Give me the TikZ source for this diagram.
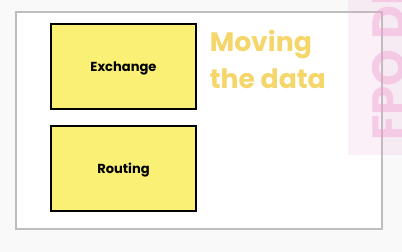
\documentclass[tikz,border=0pt]{standalone}
\usepackage{fontspec}
\setmainfont{Poppins}
\usetikzlibrary{positioning}

\definecolor{boxyellow}{RGB}{250,240,117}
\definecolor{titleyellow}{RGB}{245,214,106}
\definecolor{fpopink}{RGB}{240,160,210}
\definecolor{framegray}{RGB}{190,190,190}
\definecolor{pagegray}{RGB}{249,249,249}

\tikzset{
  block/.style={draw=black, line width=1.5pt, fill=boxyellow,
    minimum width=108.75pt, minimum height=63.75pt, inner sep=0pt,
    text depth=0pt, font=\bfseries\fontsize{9.8}{12}\selectfont},
}

\begin{document}
\begin{tikzpicture}[x=0.75pt,y=0.75pt,yscale=-1,xscale=1]
\useasboundingbox (0,0) rectangle (402,252);
\fill[pagegray] (0,0) rectangle (402,252);

%Shape: Rectangle (frame)
\draw[framegray, line width=1.5pt, fill=white] (15.75,11.75) rectangle (381.75,228.5);

%Shape: Rectangle
\node[block] (exchange) at (123.5,66.5) {Exchange};
%Shape: Rectangle
\node[block] (routing) at (123.5,168.5) {Routing};

% Text Node
\node[anchor=north west, align=left, inner sep=0pt, text=titleyellow,
  font=\bfseries\fontsize{20}{27.5}\selectfont] (title) at (209.5,30) {Moving\\the data};

% pink placeholder strip
\begin{scope}
\clip (0,0) rectangle (402,252);
\fill[fpopink, opacity=0.15] (348,0) rectangle (402,155);
\node[rotate=90, anchor=north west, inner sep=0pt, text=fpopink, text opacity=0.45,
  font=\bfseries\fontsize{35}{35}\selectfont] (fpo) at (372,141) {FPO DIAGRAM};
\end{scope}

\end{tikzpicture}
\end{document}
